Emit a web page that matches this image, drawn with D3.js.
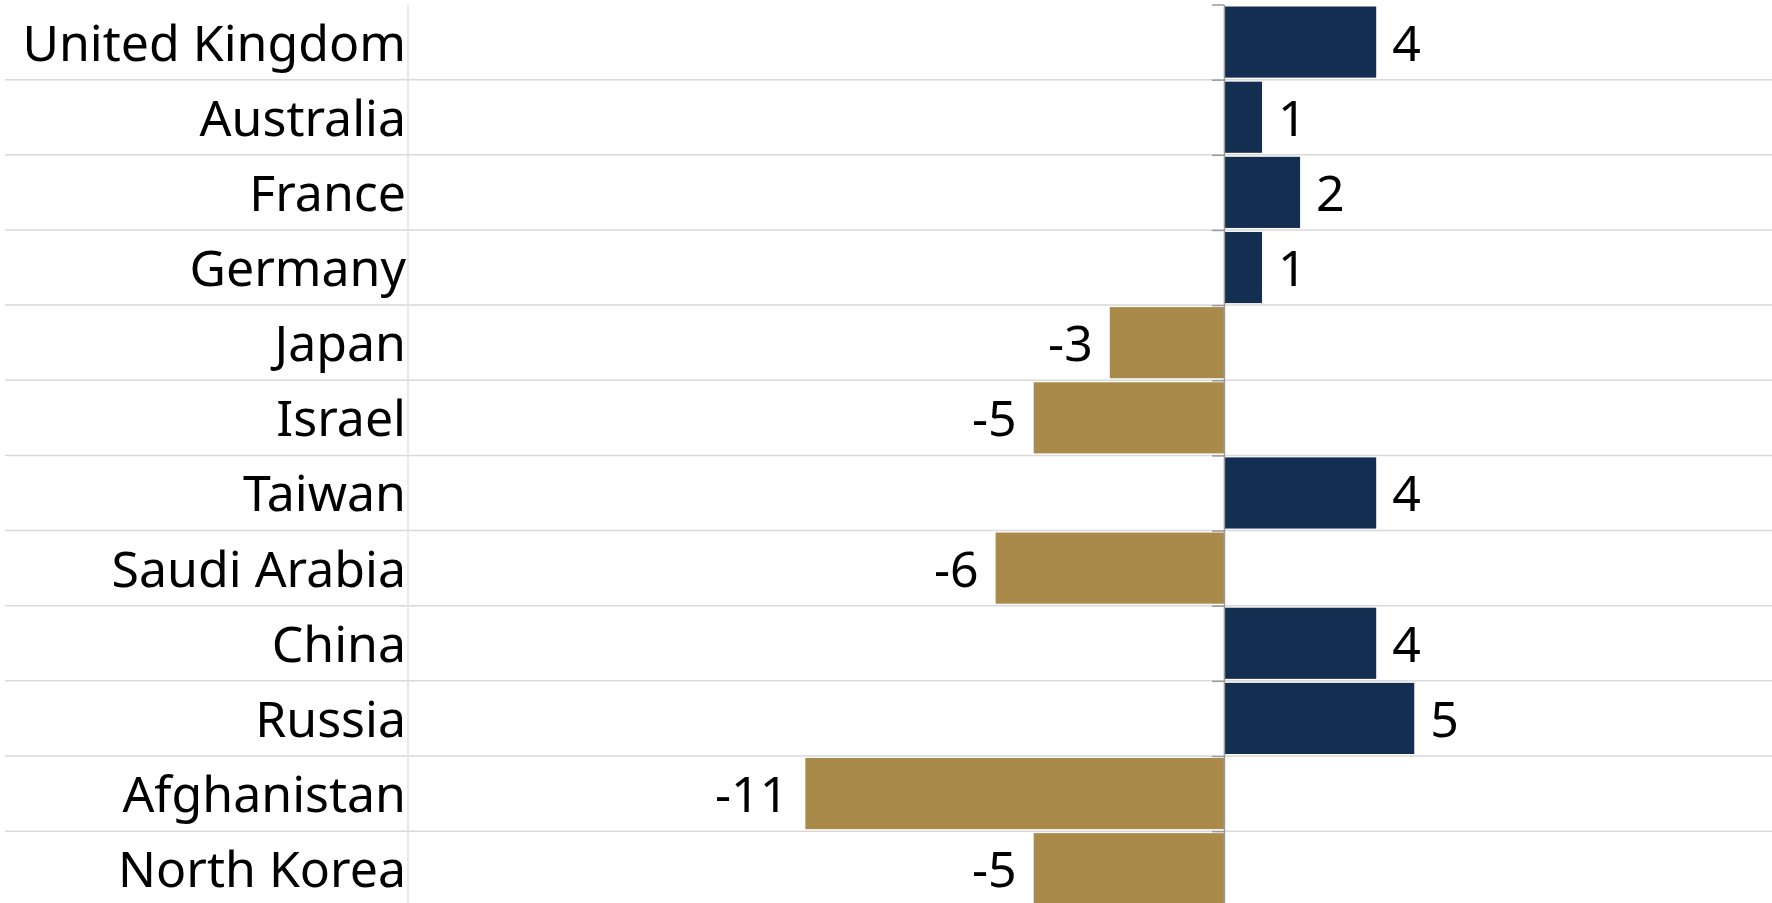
<!DOCTYPE html>
<html>
<head>
<meta charset="utf-8">
<script src="https://cdn.jsdelivr.net/npm/d3@7"></script>
<style>
  html, body { margin: 0; padding: 0; background: #fff; }
  svg { display: block; }
  text { font-family: "Noto Sans", "Open Sans", sans-serif; fill: #000; }
</style>
</head>
<body>
<script>
// data
const countries = ["United Kingdom", "Australia", "France", "Germany", "Japan", "Israel",
  "Taiwan", "Saudi Arabia", "China", "Russia", "Afghanistan", "North Korea"];
const values = [4, 1, 2, 1, -3, -5, 4, -6, 4, 5, -11, -5];

const width = 1772, height = 903;
const rowTop = 4.5, rowH = 75.15;
const plotLeft = 408, plotRight = 1772;

const svg = d3.select(document.body).append("svg")
    .attr("width", width)
    .attr("height", height);

const x = d3.scaleLinear()
    .domain([-21.44, 14.4])
    .range([plotLeft, plotRight]);

const y = d3.scaleBand()
    .domain(countries)
    .range([rowTop, rowTop + rowH * countries.length])
    .padding(0);

// row index -> boundary position, used for gridlines and axis ticks
const yIdx = d3.scaleLinear()
    .domain([0, countries.length])
    .range([rowTop, rowTop + rowH * countries.length]);

// horizontal gridlines between rows
svg.append("g")
    .selectAll("line")
    .data(d3.range(1, countries.length))
    .enter()
    .append("line")
    .attr("x1", 5)
    .attr("x2", width)
    .attr("y1", d => yIdx(d))
    .attr("y2", d => yIdx(d))
    .attr("stroke", "#d9d9d9")
    .attr("stroke-width", 1.5);

// divider between labels and plot
svg.append("line")
    .attr("x1", plotLeft).attr("x2", plotLeft)
    .attr("y1", rowTop).attr("y2", height)
    .attr("stroke", "#e2e2e2")
    .attr("stroke-width", 1.5);

const data = countries.map((c, i) => ({ country: c, value: values[i] }));

// bars
svg.append("g")
    .selectAll("rect")
    .data(data)
    .enter()
    .append("rect")
    .attr("x", d => x(Math.min(0, d.value)))
    .attr("width", d => Math.abs(x(d.value) - x(0)))
    .attr("y", d => y(d.country) + 2)
    .attr("height", y.bandwidth() - 4)
    .attr("fill", d => d.value >= 0 ? "#142e51" : "#aa8a4a");

// zero axis with ticks at row boundaries
const axis = d3.axisLeft(yIdx)
    .tickValues(d3.range(0, countries.length))
    .tickSize(12)
    .tickSizeOuter(0)
    .tickFormat("");

const gAxis = svg.append("g")
    .attr("transform", `translate(${x(0)},0)`)
    .call(axis);
gAxis.select(".domain").attr("stroke", "#9a9a9a").attr("stroke-width", 1.5);
gAxis.selectAll(".tick line").attr("stroke", "#9a9a9a").attr("stroke-width", 1.5);

// category labels
svg.append("g")
    .selectAll("text")
    .data(countries)
    .enter()
    .append("text")
    .attr("x", 406)
    .attr("y", d => y(d) + y.bandwidth() / 2)
    .attr("dy", "0.37em")
    .attr("text-anchor", "end")
    .attr("font-size", 50)
    .text(d => d);

// value labels
svg.append("g")
    .selectAll("text")
    .data(data)
    .enter()
    .append("text")
    .attr("x", d => d.value >= 0 ? x(d.value) + 16 : x(d.value) - 17)
    .attr("y", d => y(d.country) + y.bandwidth() / 2)
    .attr("dy", "0.37em")
    .attr("text-anchor", d => d.value >= 0 ? "start" : "end")
    .attr("font-size", 50)
    .text(d => d.value);
</script>
</body>
</html>
